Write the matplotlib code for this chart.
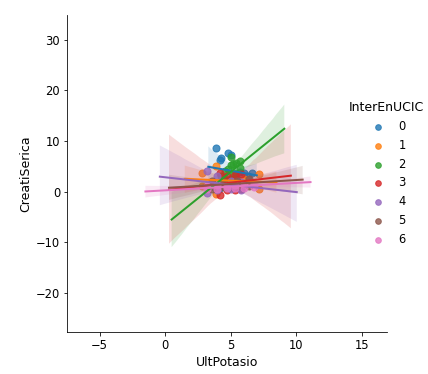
import matplotlib
matplotlib.use("Agg")
import matplotlib.pyplot as plt
import seaborn as sns

# InterEnUCIC levels and the (UltPotasio, CreatiSerica) points of each level
levels = [0, 1, 2, 3, 4, 5, 6]

pot_0 = [3.9, 4.2, 4.3, 4.8, 5.0, 5.7, 6.0, 6.6, 5.5, 4.6, 5.3, 3.7, 4.1, 6.3]
crea_0 = [8.6, 6.3, 6.6, 7.6, 7.2, 4.0, 3.7, 3.7, 2.6, 2.2, 1.0, 1.0, 0.5, 3.2]

pot_1 = [2.8, 2.8, 3.85, 3.85, 5.2, 5.2, 7.2, 7.2, 6.0, 6.0, 4.5, 4.5]
crea_1 = [3.72, 1.12, 5.1, -0.5, 2.98, 1.38, 3.48, 0.48, 2.6, 1.6, 2.7, 1.8]

pot_2 = [5.0, 5.0, 5.0, 5.0, 4.6, 4.6, 5.4, 5.4, 4.3, 4.3, 5.7, 5.7, 4.8, 4.8, 5.2, 5.2]
crea_2 = [6.8, 1.0, 5.3, 2.5, 4.07, 2.07, 5.73, 3.73, 3.14, 1.74, 6.06, 4.66,
          4.58, 2.38, 5.42, 3.22]

pot_3 = [4.2, 4.2, 4.7, 4.7, 5.3, 5.3, 5.8, 5.8]
crea_3 = [3.76, -0.64, 3.16, 0.26, 3.34, 0.44, 3.49, 0.59]

pot_4 = [3.2, 3.2, 4.0, 4.0, 5.0, 5.0, 5.8, 5.8]
crea_4 = [4.13, -0.27, 3.05, 0.35, 2.21, 0.61, 1.97, 0.37]

pot_5 = [3.6, 3.6, 4.5, 4.5, 5.5, 5.5, 6.4, 6.4]
crea_5 = [2.12, 0.52, 1.96, 0.96, 2.11, 1.11, 2.46, 1.06]

pot_6 = [3.2, 3.2, 4.0, 4.0, 4.7, 4.7, 5.3, 5.3, 6.0, 6.0, 6.8, 6.8]
crea_6 = [1.05, 0.45, 1.27, 0.47, 1.17, 0.77, 1.36, 0.76, 1.56, 0.76, 1.58, 0.98]

pots = [pot_0, pot_1, pot_2, pot_3, pot_4, pot_5, pot_6]
creas = [crea_0, crea_1, crea_2, crea_3, crea_4, crea_5, crea_6]

# x extent over which each fitted line was drawn
fit_from = [3.3, 1.5, 0.5, 0.3, -0.4, 0.3, -1.5]
fit_to = [7.0, 8.5, 9.1, 9.6, 10.05, 10.5, 11.1]

fig = plt.figure(figsize=(428 / 72, 374 / 72), dpi=72)
ax = fig.add_axes([0.157, 0.112, 0.747, 0.848])
palette = sns.color_palette()

for i, lvl in enumerate(levels):
    # with truncate=False seaborn stretches the fit over the current xlim
    ax.set_xlim(fit_from[i], fit_to[i])
    sns.regplot(x=pots[i], y=creas[i], ax=ax, color=palette[i],
                truncate=False, seed=i, label=str(lvl),
                scatter_kws={"s": 50}, line_kws={"lw": 2})

ax.set_xlim(-7.47, 16.93)
ax.set_ylim(-27.7, 34.9)
ax.set_xticks([-5, 0, 5, 10, 15])
ax.set_yticks([-20, -10, 0, 10, 20, 30])
ax.spines['top'].set_visible(False)
ax.spines['right'].set_visible(False)
ax.tick_params(labelsize=11.5)
ax.set_xlabel("UltPotasio", fontsize=12.5)
ax.set_ylabel("CreatiSerica", fontsize=12.5)

ax.legend(title="InterEnUCIC", frameon=False, fontsize=11.5, title_fontsize=12.5,
          loc="upper left", bbox_to_anchor=(338 / 428, 1 - 91 / 374),
          bbox_transform=fig.transFigure, markerscale=0.8)

fig.savefig("out.png", dpi=72)
